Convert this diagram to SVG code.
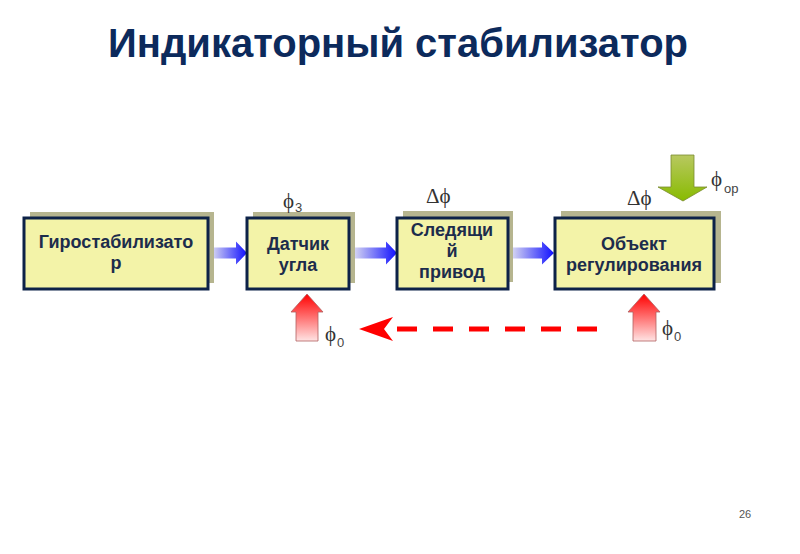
<svg xmlns="http://www.w3.org/2000/svg" width="800" height="554" viewBox="0 0 800 554">
<defs>
<linearGradient id="gBlue" x1="0" y1="0" x2="1" y2="0">
<stop offset="0" stop-color="#d2d2f2"/>
<stop offset="1" stop-color="#1010ff"/>
</linearGradient>
<linearGradient id="gRed" x1="0" y1="0" x2="0" y2="1">
<stop offset="0" stop-color="#ff0000"/>
<stop offset="1" stop-color="#ffe4e4"/>
</linearGradient>
<linearGradient id="gGreen" x1="0" y1="0" x2="0" y2="1">
<stop offset="0" stop-color="#b8c860"/>
<stop offset="1" stop-color="#88bb00"/>
</linearGradient>
</defs>
<style>
.title{font-family:"Liberation Sans",Arial,sans-serif;font-weight:bold;font-size:40px;fill:#0c2a5c}
.shadow{fill:#b6b58f}
.box{fill:#f3f3a8;stroke:#0d2248;stroke-width:3}
.lbl{font-family:"Liberation Sans",Arial,sans-serif;font-weight:bold;font-size:18px;fill:#1c2c4c;text-anchor:middle}
.sym{font-family:"Liberation Serif","Times New Roman",serif;font-size:21px;fill:#333}
.sub{font-family:"Liberation Sans",Arial,sans-serif;font-size:13px;fill:#444}
.blue{fill:url(#gBlue)}
.red{fill:url(#gRed);stroke:#b06060;stroke-width:0.8}
.green{fill:url(#gGreen);stroke:#7a8a30;stroke-width:0.8}
.page{font-family:"Liberation Sans",Arial,sans-serif;font-size:11px;fill:#555}
</style>
<text class="title" x="108" y="57">Индикаторный стабилизатор</text>

<g id="connectors">
<path class="blue" d="M213,247.5 H236 V241.5 L247,253 L236,264.5 V258.5 H213 Z"/>
<path class="blue" d="M355,247.5 H386 V241.5 L397,253 L386,264.5 V258.5 H355 Z"/>
<path class="blue" d="M513,247.5 H542 V241.5 L554,253 L542,264.5 V258.5 H513 Z"/>
<path class="red" d="M296,341 V312 H291 L307,294 L323,312 H318 V341 Z"/>
<path class="red" d="M633,341 V312 H628 L644,294 L660,312 H656 V341 Z"/>
<path class="green" d="M671,155 H694 V187 H707 L683,201 L658,187 H671 Z"/>
<line x1="597" y1="329" x2="394" y2="329" stroke="#ff0000" stroke-width="5" stroke-dasharray="20 16"/>
<path d="M359,329 L393,317 L384,329 L393,341 Z" fill="#ff0000"/>
</g>

<g id="node-gyro">
<rect class="shadow" x="30" y="212" width="184" height="71"/>
<rect class="box" x="24" y="218" width="184" height="71"/>
<text class="lbl" x="116" y="248">Гиростабилизато</text>
<text class="lbl" x="116" y="269">р</text>
</g>
<g id="node-sensor">
<rect class="shadow" x="253" y="212" width="102" height="71"/>
<rect class="box" x="247" y="218" width="102" height="71"/>
<text class="lbl" x="298" y="250">Датчик</text>
<text class="lbl" x="298" y="271">угла</text>
</g>
<g id="node-drive">
<rect class="shadow" x="403" y="211" width="110" height="71"/>
<rect class="box" x="397" y="218" width="111" height="71"/>
<text class="lbl" x="452" y="236">Следящи</text>
<text class="lbl" x="452" y="257">й</text>
<text class="lbl" x="452" y="278">привод</text>
</g>
<g id="node-object">
<rect class="shadow" x="561" y="211" width="160" height="72"/>
<rect class="box" x="555" y="218" width="159" height="71"/>
<text class="lbl" x="634" y="250">Объект</text>
<text class="lbl" x="634" y="271">регулирования</text>
</g>

<g id="labels">
<text class="sym" x="283" y="208">ϕ</text><text class="sub" x="295" y="212">3</text>
<text class="sym" x="426" y="203">Δϕ</text>
<text class="sym" x="627" y="205">Δϕ</text>
<text class="sym" x="711" y="186">ϕ</text><text class="sub" x="724" y="193">ор</text>
<text class="sym" x="325" y="341">ϕ</text><text class="sub" x="337" y="347">0</text>
<text class="sym" x="662" y="335">ϕ</text><text class="sub" x="674" y="341">0</text>
</g>
<text class="page" x="739" y="518">26</text>
</svg>
